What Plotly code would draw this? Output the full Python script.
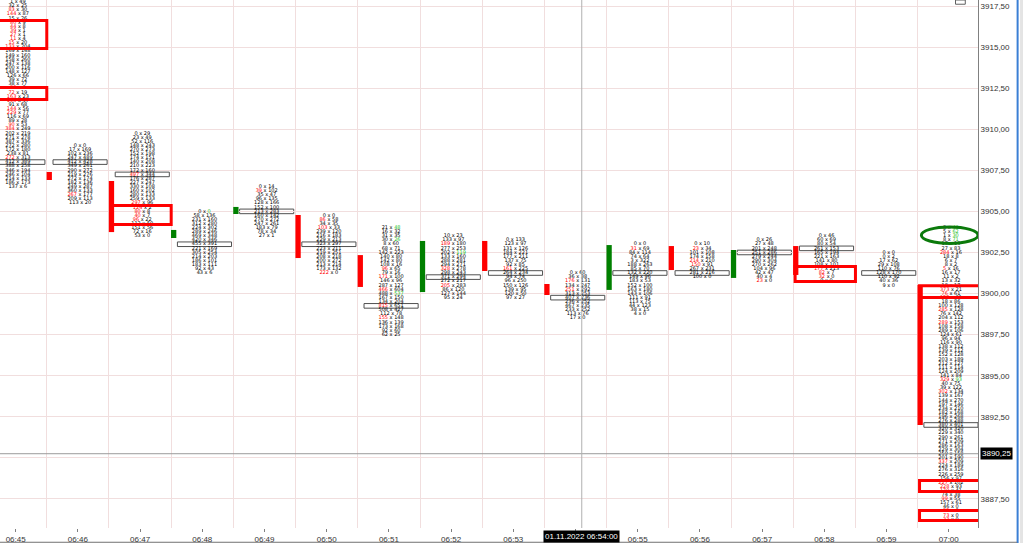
import plotly.graph_objects as go

RED = "#ff0000"
GREEN_TXT = "#1fbf1f"
GREEN = "#008000"

minutes = ["06:45", "06:46", "06:47", "06:48", "06:49", "06:50", "06:51", "06:52",
           "06:53", "06:54", "06:55", "06:56", "06:57", "06:58", "06:59", "07:00"]

# footprint rows: highest price level of each minute, then bid / ask from top to bottom
fp_top = [3917.75, 3909.0, 3909.75, 3905.0, 3906.5, 3904.75, 3904.0, 3903.5,
          3903.25, 3901.25, 3903.0, 3903.0, 3903.25, 3903.5, 3902.5, 3904.0]

fp_bid = [
    [1, 32, 83, 144, 15, 80, 44, 39, 27, 11, 15, 133, 169, 149, 158, 247, 200, 148, 126, 39, 38, 80, 72, 163,
     195, 91, 144, 229, 116, 89, 90, 384, 202, 271, 387, 272, 172, 238, 272, 412, 388, 346, 246, 214, 186, 137],
    [0, 17, 102, 247, 412, 349, 290, 219, 272, 182, 249, 360, 267, 209, 113],
    [0, 23, 52, 148, 270, 152, 174, 140, 210, 172, 497, 176, 227, 330, 160, 280, 259, 297, 124, 80, 40, 96,
     112, 151, 72, 53],
    [0, 58, 231, 312, 224, 289, 469, 420, 455, 221, 305, 214, 186, 183, 92, 43],
    [0, 39, 35, 96, 128, 152, 213, 160, 270, 247, 183, 78, 27],
    [0, 86, 34, 103, 239, 216, 229, 323, 223, 219, 208, 200, 213, 173, 222],
    [21, 16, 31, 30, 8, 68, 142, 140, 142, 108, 96, 79, 171, 146, 287, 466, 488, 167, 134, 815, 508, 112, 155,
     136, 173, 92, 62],
    [10, 133, 189, 277, 202, 133, 288, 294, 328, 298, 371, 272, 205, 86, 127, 95],
    [0, 123, 131, 184, 177, 137, 92, 161, 264, 94, 96, 150, 139, 120, 97],
    [0, 36, 176, 134, 251, 313, 407, 236, 467, 233, 113, 17],
    [0, 31, 84, 74, 3, 188, 85, 132, 149, 183, 152, 163, 143, 111, 113, 44, 38, 4],
    [0, 23, 101, 174, 214, 150, 267, 281, 100],
    [0, 27, 201, 251, 279, 290, 270, 104, 42, 40, 23],
    [0, 60, 80, 261, 165, 221, 141, 108, 177, 82, 32, 9],
    [0, 0, 17, 29, 110, 128, 110, 40, 9],
    [3, 5, 1, 8, 17, 27, 284, 18, 6, 8, 5, 16, 11, 13, 18, 373, 76, 122, 18, 100, 285, 76, 204, 289, 108, 289,
     124, 96, 116, 138, 139, 152, 203, 212, 111, 124, 141, 329, 40, 39, 302, 139, 144, 197, 234, 182, 196, 276,
     380, 320, 229, 290, 271, 286, 229, 259, 201, 337, 224, 276, 226, 156, 227, 228, 170, 74, 99, 157, 46, 35,
     73, 33],
]

fp_ask = [
    [49, 25, 30, 87, 26, 9, 8, 1, 1, 4, 20, 204, 148, 160, 260, 138, 116, 127, 66, 72, 77, 6, 19, 23,
     47, 68, 56, 77, 69, 28, 53, 249, 219, 278, 336, 280, 180, 81, 313, 389, 258, 194, 104, 133, 173, 6],
    [0, 169, 236, 489, 428, 261, 272, 276, 174, 136, 287, 133, 177, 113, 20],
    [29, 49, 116, 243, 273, 198, 151, 208, 223, 160, 344, 287, 247, 108, 102, 133, 133, 96, 2, 8, 7, 22,
     50, 56, 16, 0],
    [0, 136, 160, 280, 302, 246, 348, 346, 391, 169, 254, 203, 101, 111, 43, 6],
    [14, 102, 47, 135, 166, 100, 283, 142, 272, 261, 79, 34, 1],
    [0, 58, 35, 33, 120, 183, 213, 297, 211, 251, 218, 272, 214, 132, 0],
    [48, 32, 35, 26, 60, 71, 223, 80, 80, 16, 65, 16, 100, 96, 127, 604, 537, 150, 204, 651, 427, 78, 148,
     139, 168, 60, 25],
    [23, 97, 180, 253, 119, 160, 281, 271, 278, 243, 294, 217, 283, 120, 144, 24],
    [133, 97, 126, 221, 211, 75, 85, 225, 234, 74, 250, 126, 95, 50, 27],
    [60, 38, 131, 247, 292, 253, 236, 252, 235, 252, 76, 0],
    [0, 69, 114, 64, 322, 263, 70, 220, 96, 53, 100, 180, 106, 91, 75, 123, 15, 0],
    [10, 34, 108, 158, 210, 91, 231, 216, 0],
    [26, 48, 248, 286, 244, 304, 262, 96, 47, 4, 0],
    [46, 69, 54, 153, 194, 163, 80, 101, 213, 7, 0, 0],
    [0, 2, 62, 108, 76, 170, 92, 36, 0],
    [40, 62, 30, 71, 19, 83, 16, 8, 7, 2, 16, 17, 2, 32, 17, 21, 61, 61, 86, 128, 128, 142, 112, 153, 158, 106,
     61, 94, 90, 112, 112, 128, 189, 127, 114, 209, 84, 93, 75, 122, 134, 167, 270, 146, 210, 168, 268, 288,
     401, 320, 340, 261, 209, 163, 304, 158, 190, 209, 189, 316, 259, 97, 102, 93, 41, 38, 55, 61, 0, 0,
     0, 0],
]

# imbalance flags (row indices, top = 0)
red_bid = [
    [2, 3, 5, 6, 7, 8, 9, 10, 11, 21, 22, 23, 24, 26, 27, 30, 31, 38],
    [12], [10, 17, 18, 19, 20, 21], [], [1], [1, 3, 14], [10, 12, 15, 19, 22], [2, 8, 12], [7], [2, 4],
    [1], [1, 4, 5], [10], [8, 9, 10], [],
    [6, 10, 15, 16, 17, 20, 23, 37, 40, 57, 62, 63, 64, 66, 69, 70, 71],
]
green_ask = [[], [], [], [0], [], [], [0, 3, 16], [4], [], [], [], [], [], [], [], [0, 1, 2, 3, 37]]

poc_price = [3908.0, 3908.0, 3907.25, 3903.0, 3905.0, 3903.0, 3899.25, 3901.0,
             3901.25, 3899.75, 3901.25, 3901.25, 3902.5, 3902.75, 3901.25, 3892.0]

# minute candles (open / close)
candle_open = [None, 3907.40, 3906.85, 3903.38, 3904.84, 3904.78, 3902.34, 3900.09,
               3903.20, 3900.58, 3900.22, 3902.89, 3900.95, 3902.89, None, 3900.52]
candle_close = [None, 3906.91, 3903.74, 3903.87, 3905.27, 3902.16, 3900.40, 3903.20,
                3901.37, 3899.91, 3902.95, 3901.43, 3902.65, 3901.13, None, 3892.00]

# user highlights: (minute index, low price, high price)
highlights = [(0, 3914.91, 3916.62), (0, 3911.81, 3912.54), (2, 3904.20, 3905.36),
              (13, 3900.73, 3901.64), (15, 3899.76, 3900.47), (15, 3887.95, 3888.62),
              (15, 3886.19, 3886.79)]
ellipse_mark = (15, 3903.05, 3904.05)

last_price = 3890.25
cursor_index = 9
cursor_minute = 9.1
cursor_label = "01.11.2022 06:54:00"

price_ticks = [3887.5 + 2.5 * k for k in range(13)]
price_ticktext = [f"{v:.2f}".replace(".", ",") for v in price_ticks]
# labels hidden behind the last-price / cursor badges
price_ticktext = ["" if abs(v - last_price) < 0.5 else t for v, t in zip(price_ticks, price_ticktext)]
time_ticktext = ["" if k == cursor_index else t for k, t in enumerate(minutes)]

FONT = "Liberation Sans, Arial"
FP_FONT = "DejaVu Sans"

fig = go.Figure()

# candles
cx, cb, ch, cc = [], [], [], []
for i in range(len(minutes)):
    o, c = candle_open[i], candle_close[i]
    if o is None:
        continue
    cx.append(i - 0.46)
    cb.append(min(o, c))
    ch.append(abs(c - o))
    cc.append(GREEN if c > o else RED)
fig.add_trace(go.Bar(x=cx, y=ch, base=cb, width=0.085, marker=dict(color=cc, line=dict(width=0)),
                     hoverinfo="skip"))

# footprint text
tx, ty, tt = [], [], []
for i in range(len(minutes)):
    for j, (b, a) in enumerate(zip(fp_bid[i], fp_ask[i])):
        p = fp_top[i] - 0.25 * j
        bs = f"<span style='color:{RED}'>{b}</span>" if j in red_bid[i] else str(b)
        as_ = f"<span style='color:{GREEN_TXT}'>{a}</span>" if j in green_ask[i] else str(a)
        tx.append(i + 0.035)
        ty.append(p)
        tt.append(f"{bs} x {as_}")
fig.add_trace(go.Scatter(x=tx, y=ty, text=tt, mode="text", textposition="middle center",
                         textfont=dict(size=5, color="#000000", family=FP_FONT),
                         hoverinfo="skip"))

shapes = []
# POC boxes
for i, p in enumerate(poc_price):
    shapes.append(dict(type="rect", xref="x", yref="y", x0=i - 0.40, x1=i + 0.47, y0=p - 0.14, y1=p + 0.14,
                       fillcolor="white", line=dict(color="#505050", width=1), layer="below"))
# highlights
for (i, lo, hi) in highlights:
    shapes.append(dict(type="rect", xref="x", yref="y", x0=i - 0.47, x1=i + 0.50, y0=lo, y1=hi,
                       line=dict(color=RED, width=3), fillcolor="rgba(0,0,0,0)", layer="above"))
ei, elo, ehi = ellipse_mark
shapes.append(dict(type="circle", xref="x", yref="y", x0=ei - 0.44, x1=ei + 0.47, y0=elo, y1=ehi,
                   line=dict(color="#0b7a0b", width=3), layer="above"))
# last price line and cursor
shapes.append(dict(type="line", xref="paper", yref="y", x0=0, x1=1, y0=last_price, y1=last_price,
                   line=dict(color="#9a9a9a", width=1)))
shapes.append(dict(type="line", xref="x", yref="paper", x0=cursor_minute, x1=cursor_minute, y0=0, y1=1,
                   line=dict(color="#b0b0b0", width=1)))
# frame pieces right of / below the plot
shapes.append(dict(type="line", xref="paper", yref="paper", x0=1.0405, x1=1.0405, y0=-0.03, y1=1,
                   line=dict(color="#3a7fd5", width=2)))
shapes.append(dict(type="rect", xref="paper", yref="paper", x0=1.043, x1=1.06, y0=-0.03, y1=1,
                   fillcolor="#e4e4e4", line=dict(width=0)))
shapes.append(dict(type="line", xref="paper", yref="paper", x0=0, x1=1.04, y0=-0.027, y1=-0.027,
                   line=dict(color="#707070", width=1)))
shapes.append(dict(type="rect", xref="paper", yref="paper", x0=0.977, x1=0.987, y0=0.992, y1=1.0,
                   fillcolor="white", line=dict(color="#606060", width=1)))

annotations = [
    dict(xref="paper", yref="y", x=1.0, y=last_price, xanchor="left", yanchor="middle", xshift=2,
         text=f"{last_price:.2f}".replace(".", ","), showarrow=False,
         bgcolor="black", font=dict(color="white", size=8, family=FONT), borderpad=1),
    dict(xref="x", yref="paper", x=cursor_minute, y=0, yanchor="top", xanchor="center", yshift=-2,
         text=cursor_label, showarrow=False, bgcolor="black",
         font=dict(color="white", size=8, family=FONT), borderpad=1),
]

fig.update_layout(
    width=1023, height=543, margin=dict(l=0, r=45, t=0, b=15),
    plot_bgcolor="white", paper_bgcolor="white", showlegend=False, barmode="overlay",
    shapes=shapes, annotations=annotations,
    xaxis=dict(range=[-0.252, 15.47], tickvals=list(range(len(minutes))), ticktext=time_ticktext,
               ticks="outside", ticklen=3, tickcolor="#808080", showgrid=False, zeroline=False,
               showline=False, tickfont=dict(size=8, color="#333333", family=FONT),
               minor=dict(tickvals=[k + 0.5 for k in range(-1, 16)], showgrid=True, gridcolor="#f1dede",
                          ticks="")),
    yaxis=dict(side="right", range=[3885.73, 3917.865], tickvals=price_ticks, ticktext=price_ticktext,
               showgrid=True, gridcolor="#f1dede", zeroline=False, showline=True, linecolor="#808080",
               ticks="", tickfont=dict(size=8, color="#333333", family=FONT)),
)

fig.write_html("out.html", config={"displayModeBar": False},
               post_script="document.body.style.margin='0';document.body.style.overflow='hidden';")
